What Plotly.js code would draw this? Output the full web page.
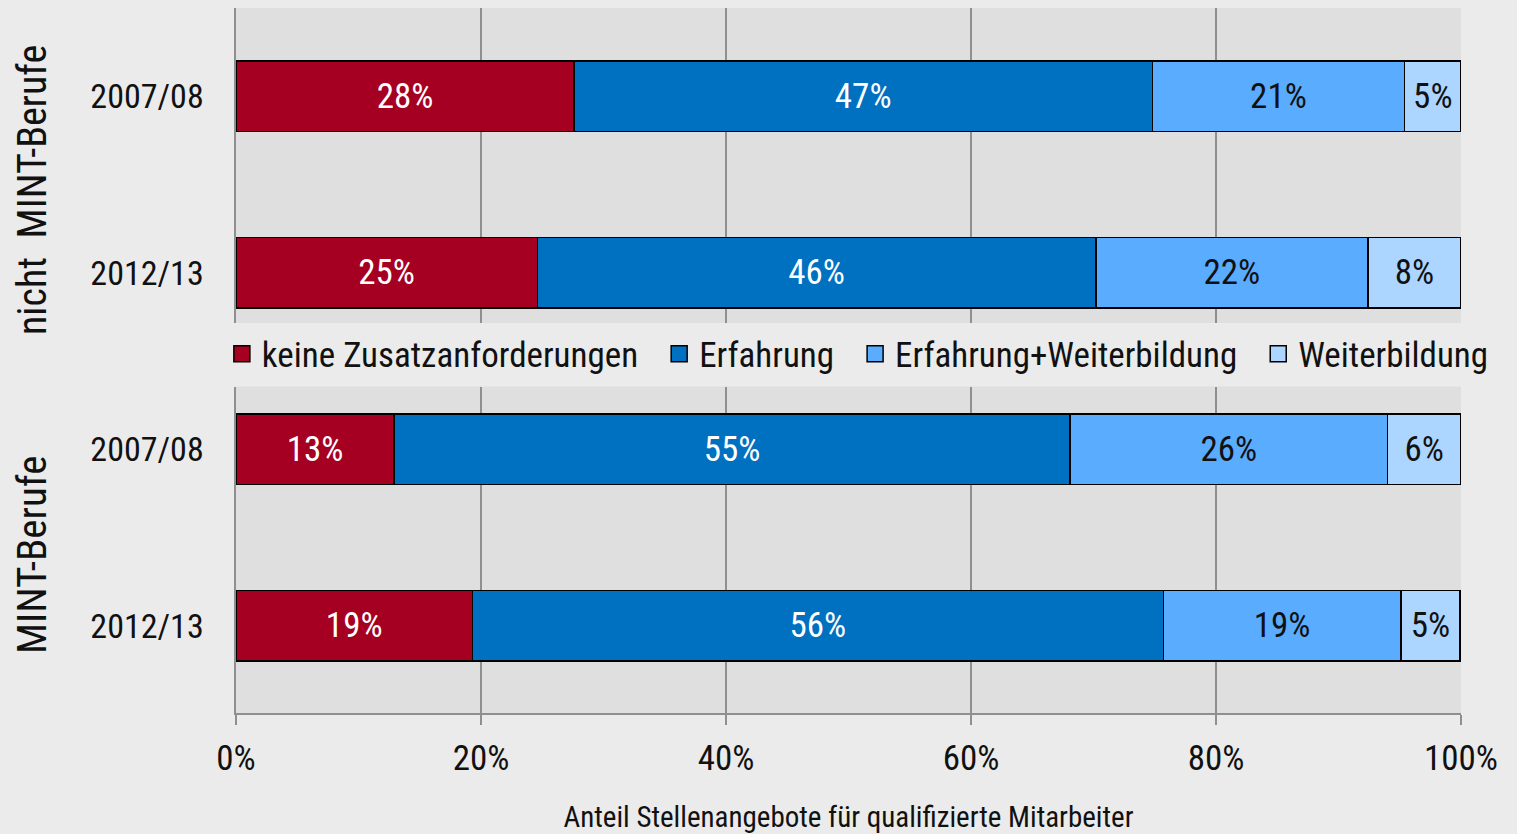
<!DOCTYPE html>
<html>
<head>
<meta charset="utf-8">
<script src="https://cdn.plot.ly/plotly-3.0.1.min.js"></script>
<style>html,body{margin:0;padding:0;background:#ebebeb;}#chart{width:1517px;height:834px;}</style>
</head>
<body>
<div id="chart"></div>
<script>
// Categories
const years = ['2007/08', '2012/13'];
const seriesNames = ['keine Zusatzanforderungen', 'Erfahrung', 'Erfahrung+Weiterbildung', 'Weiterbildung'];
const groupTitles = ['nicht  MINT-Berufe', 'MINT-Berufe'];
const xTickVals = [0, 20, 40, 60, 80, 100];
const xTickText = ['0%', '20%', '40%', '60%', '80%', '100%'];
const xTitle = 'Anteil Stellenangebote für qualifizierte Mitarbeiter';

// Shares (%) – nicht MINT-Berufe
const nichtKeine = [27.6, 24.6];
const nichtErf = [47.2, 45.6];
const nichtErfWb = [20.6, 22.2];
const nichtWb = [4.6, 7.6];
// Shares (%) – MINT-Berufe
const mintKeine = [12.9, 19.3];
const mintErf = [55.2, 56.4];
const mintErfWb = [25.9, 19.4];
const mintWb = [6.0, 4.8];

const colors = ['#a50021', '#0070c0', '#5aacff', '#acd5ff'];
const textColors = ['#ffffff', '#ffffff', '#111111', '#111111'];
const FONT = "'Liberation Sans Narrow', 'Arial Narrow', 'Roboto Condensed', 'Liberation Sans', sans-serif";

const groups = [
  {vals: [nichtKeine, nichtErf, nichtErfWb, nichtWb], xa: 'x', ya: 'y'},
  {vals: [mintKeine, mintErf, mintErfWb, mintWb], xa: 'x2', ya: 'y2'}
];

const traces = [];
groups.forEach(g => {
  g.vals.forEach((v, i) => {
    traces.push({
      type: 'bar',
      orientation: 'h',
      name: seriesNames[i],
      legendgroup: seriesNames[i],
      showlegend: false,
      x: v,
      y: years,
      xaxis: g.xa,
      yaxis: g.ya,
      width: 0.4,
      marker: {color: colors[i], line: {color: '#000000', width: 1.5}},
      texttemplate: '%{x:.0f}%',
      textposition: 'inside',
      insidetextanchor: 'middle',
      textangle: 0,
      constraintext: 'none',
      insidetextfont: {family: FONT, size: 35, color: textColors[i]},
      hoverinfo: 'skip'
    });
  });
});

// Legend entries (square markers, larger than the fixed bar legend icon)
seriesNames.forEach((n, i) => {
  traces.push({
    type: 'scatter',
    mode: 'markers',
    name: n + (i < seriesNames.length - 1 ? '\u00a0\u00a0' : ''),
    legendgroup: n,
    showlegend: true,
    x: [null], y: [null],
    xaxis: 'x', yaxis: 'y',
    marker: {symbol: 'square', size: 16, color: colors[i], line: {color: '#000000', width: 1.5}},
    hoverinfo: 'skip'
  });
});

const xCommon = {
  range: [0, 100],
  tickvals: xTickVals,
  ticktext: xTickText,
  showgrid: true,
  gridcolor: '#8f8f8f',
  gridwidth: 1.5,
  zeroline: false,
  domain: [236/1517, 1461/1517],
  fixedrange: true
};

const layout = {
  width: 1517,
  height: 834,
  margin: {l: 0, r: 0, t: 0, b: 0},
  paper_bgcolor: '#ebebeb',
  plot_bgcolor: '#dfdfdf',
  font: {family: FONT, size: 34, color: '#111111'},
  barmode: 'stack',
  showlegend: true,
  legend: {
    orientation: 'h',
    x: 0.5655, xanchor: 'center',
    y: (834 - 354) / 834, yanchor: 'middle',
    bgcolor: 'rgba(0,0,0,0)',
    font: {family: FONT, size: 35, color: '#111111'},
    traceorder: 'normal'
  },
  xaxis: Object.assign({}, xCommon, {anchor: 'y', showticklabels: false, ticks: '', showline: false, matches: 'x2'}),
  xaxis2: Object.assign({}, xCommon, {
    anchor: 'y2',
    showticklabels: true,
    ticks: 'outside', ticklen: 10, tickwidth: 2, tickcolor: '#8f8f8f',
    ticklabelstandoff: 3,
    showline: true, linecolor: '#8f8f8f', linewidth: 2,
    tickfont: {family: FONT, size: 35, color: '#111111'},
    title: {text: xTitle, font: {family: FONT, size: 29, color: '#111111'}, standoff: 29}
  }),
  yaxis: {
    type: 'category', anchor: 'x',
    domain: [(834 - 323) / 834, (834 - 8) / 834],
    range: [1.285, -0.5],
    showgrid: false, zeroline: false,
    showline: true, linecolor: '#8f8f8f', linewidth: 2.5,
    ticks: 'outside', ticklen: 23, tickcolor: 'rgba(0,0,0,0)',
    tickfont: {family: FONT, size: 34, color: '#111111'},
    fixedrange: true
  },
  yaxis2: {
    type: 'category', anchor: 'x2',
    domain: [(834 - 713) / 834, (834 - 386.5) / 834],
    range: [1.494, -0.355],
    showgrid: false, zeroline: false,
    showline: true, linecolor: '#8f8f8f', linewidth: 2.5,
    ticks: 'outside', ticklen: 23, tickcolor: 'rgba(0,0,0,0)',
    tickfont: {family: FONT, size: 34, color: '#111111'},
    fixedrange: true
  },
  annotations: [
    {text: groupTitles[0], xref: 'paper', yref: 'paper', x: 32/1517, y: (834 - 190) / 834,
     xanchor: 'center', yanchor: 'middle', textangle: -90, showarrow: false,
     font: {family: FONT, size: 40, color: '#111111'}},
    {text: groupTitles[1], xref: 'paper', yref: 'paper', x: 32/1517, y: (834 - 555) / 834,
     xanchor: 'center', yanchor: 'middle', textangle: -90, showarrow: false,
     font: {family: FONT, size: 41, color: '#111111'}}
  ]
};

Plotly.newPlot('chart', traces, layout, {displayModeBar: false, staticPlot: true});
</script>
</body>
</html>
